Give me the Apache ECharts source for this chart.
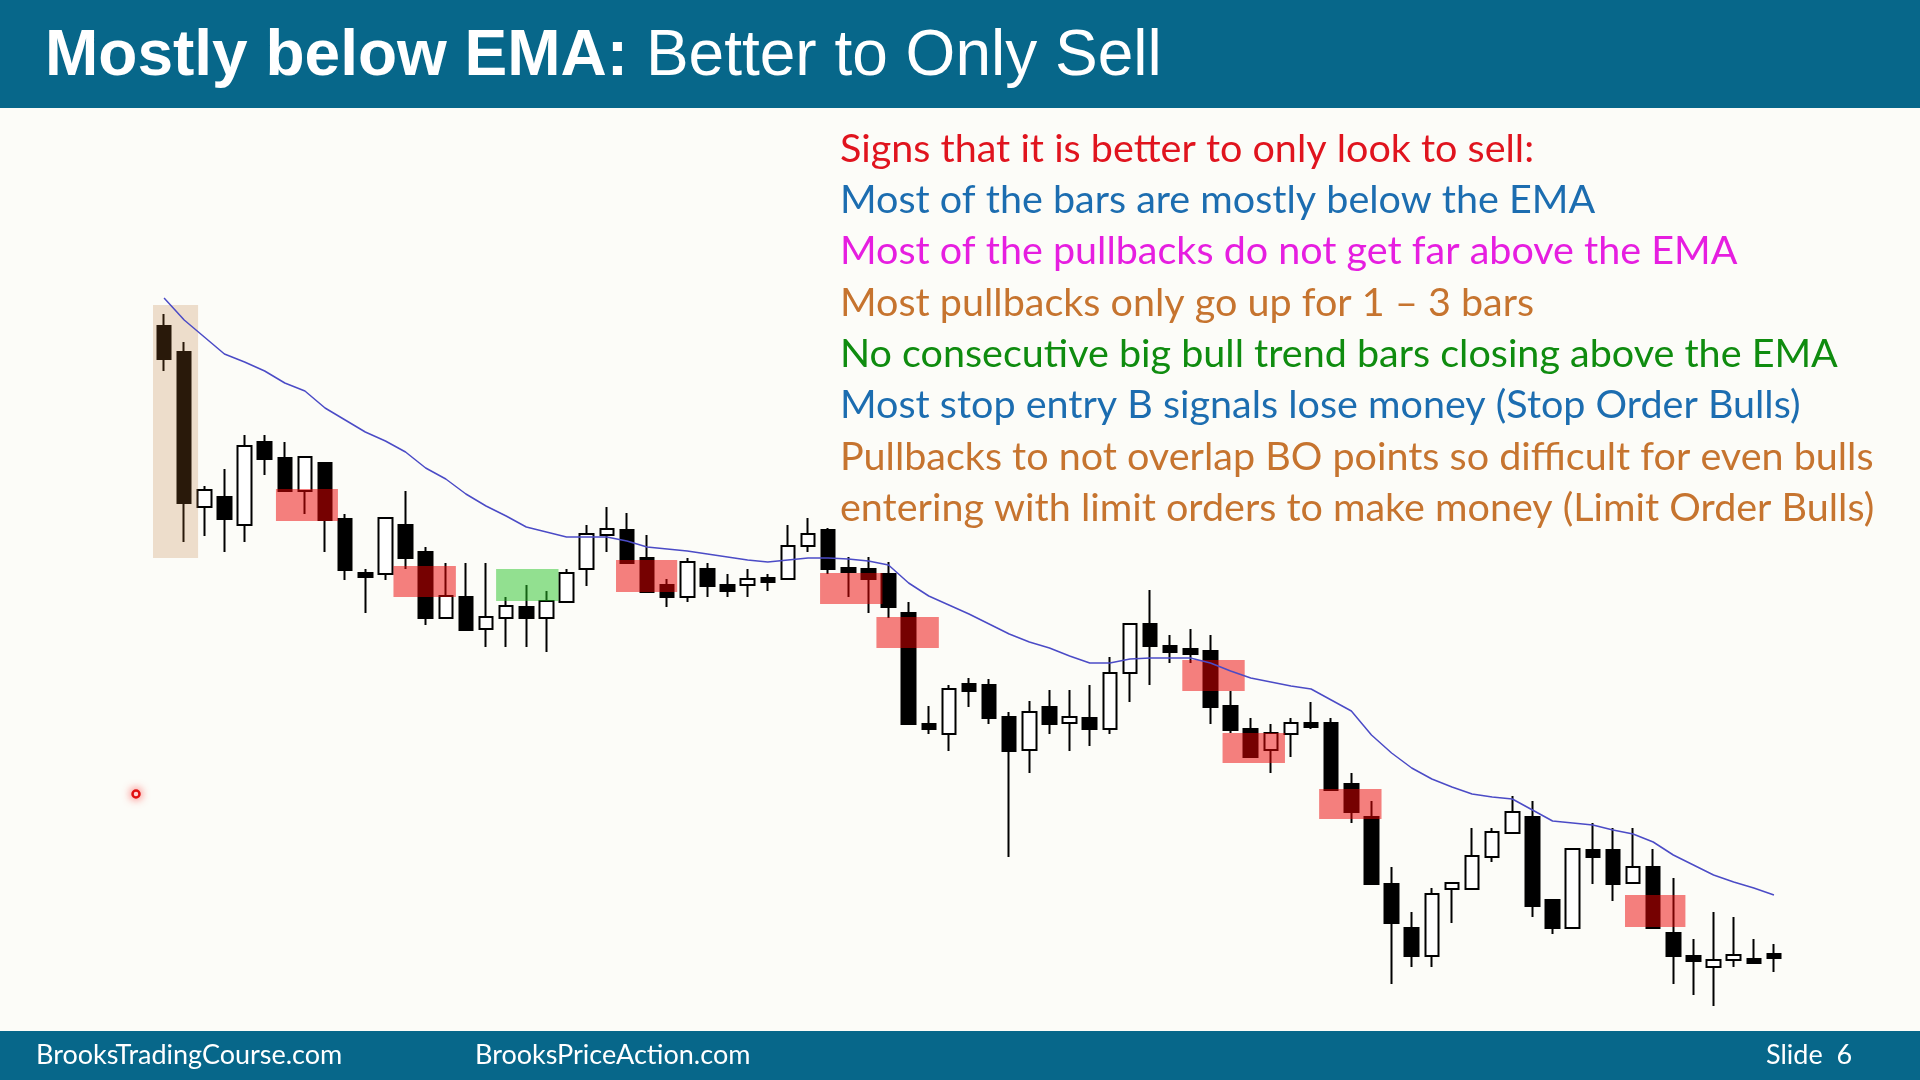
<!DOCTYPE html>
<html>
<head>
<meta charset="utf-8">
<title>Mostly below EMA: Better to Only Sell</title>
<script src="https://cdn.jsdelivr.net/npm/echarts@6/dist/echarts.min.js"></script>
<style>
  html, body { margin: 0; padding: 0; background: #fcfcf8; }
  #chart { width: 1920px; height: 1080px; }
</style>
</head>
<body>
<div id="chart"></div>
<script>
// bar prices (arbitrary units, higher = up)
const opens = [774, 748, 593, 603, 575, 658, 642, 609, 637, 581, 527, 526, 575, 548, 482, 503, 471, 482, 493, 482,
  498, 531, 565, 570, 542, 515, 503, 531, 515, 515, 522, 521, 554, 570, 532, 531, 526, 487, 376, 366,
  416, 415, 383, 350, 393, 377, 382, 371, 427, 476, 454, 451, 449, 394, 371, 350, 366, 377, 377, 316,
  283, 216, 172, 144, 211, 211, 243, 267, 283, 200, 172, 250, 250, 217, 233, 167, 144, 133, 140, 141, 146];
const closes = [741, 597, 610, 581, 654, 641, 609, 643, 580, 530, 523, 582, 542, 482, 504, 470, 483, 494, 482, 499,
  527, 566, 571, 537, 508, 503, 538, 514, 509, 521, 518, 554, 566, 531, 528, 521, 493, 376, 371, 411,
  409, 382, 349, 388, 376, 383, 371, 427, 476, 454, 448, 446, 393, 370, 343, 367, 377, 373, 310, 288,
  216, 177, 144, 206, 217, 244, 268, 288, 194, 172, 251, 243, 216, 233, 172, 144, 139, 140, 145, 137, 142];
const lows = [729, 558, 564, 548, 558, 625, 609, 586, 548, 520, 487, 520, 531, 475, 482, 470, 453, 453, 453, 448,
  498, 514, 548, 537, 508, 493, 498, 503, 503, 503, 509, 521, 548, 526, 503, 487, 482, 376, 366, 349,
  393, 376, 243, 327, 366, 349, 354, 366, 398, 415, 437, 437, 376, 367, 343, 327, 343, 371, 310, 277,
  216, 116, 133, 133, 177, 211, 238, 267, 183, 166, 172, 216, 199, 217, 172, 116, 105, 94, 133, 137, 128];
const highs = [786, 758, 614, 631, 665, 665, 658, 643, 637, 586, 531, 582, 609, 553, 537, 537, 537, 503, 515, 509,
  531, 575, 593, 587, 565, 521, 542, 537, 526, 531, 526, 575, 582, 572, 543, 543, 538, 498, 394, 415,
  422, 421, 388, 399, 410, 410, 415, 443, 477, 510, 465, 471, 465, 409, 382, 376, 382, 398, 382, 327,
  299, 233, 188, 212, 217, 272, 272, 304, 299, 200, 251, 277, 272, 272, 251, 222, 161, 188, 183, 161, 156];
const ema = [802, 780, 763, 746, 738, 729, 717, 709, 692, 680, 668, 659, 648, 632, 621, 606, 594, 584, 573, 568,
  563, 563, 563, 559, 553, 551, 549, 546, 543, 540, 538, 540, 542, 542, 541, 539, 535, 517, 504, 495,
  486, 476, 466, 458, 452, 444, 437, 437, 441, 442, 442, 442, 437, 429, 422, 418, 414, 411, 400, 389,
  365, 347, 332, 321, 313, 306, 303, 301, 290, 279, 277, 275, 270, 266, 258, 245, 235, 225, 218, 212, 205];
const bars = opens.map((_, i) => String(i + 1));

// highlight boxes: bar-index span and price span
const boxStart = [-0.55, 5.56, 11.4, 16.5, 22.46, 32.6, 35.4, 50.6, 52.6, 57.4, 72.6];
const boxEnd = [1.69, 8.64, 14.5, 19.6, 25.5, 35.7, 38.5, 53.7, 55.7, 60.5, 75.6];
const boxTop = [795, 611, 534, 531, 540, 527, 483, 440, 367, 311, 205];
const boxBottom = [542, 579, 503, 499, 508, 496, 452, 409, 337, 281, 173];
const boxKind = ['tan', 'red', 'red', 'green', 'red', 'red', 'red', 'red', 'red', 'red', 'red'];

const noteLines = [
  'Signs that it is better to only look to sell:',
  'Most of the bars are mostly below the EMA',
  'Most of the pullbacks do not get far above the EMA',
  'Most pullbacks only go up for 1 \u2013 3 bars',
  'No consecutive big bull trend bars closing above the EMA',
  'Most stop entry B signals lose money (Stop Order Bulls)',
  'Pullbacks to not overlap BO points so difficult for even bulls',
  'entering with limit orders to make money (Limit Order Bulls)'
];
const noteColors = ['#e0141e', '#1c6db0', '#e61ee0', '#c6742f', '#0f8c0f', '#1c6db0', '#c6742f', '#c6742f'];

const boxFill = {
  tan: 'rgba(185,116,46,0.22)',
  red: 'rgba(235,2,2,0.5)',
  green: 'rgba(40,195,40,0.5)'
};

const chart = echarts.init(document.getElementById('chart'));

const teal = '#07678a';
const noteFont = 'Lato, "Open Sans", sans-serif';

const graphics = [
  { type: 'rect', shape: { x: 0, y: 0, width: 1920, height: 108 }, style: { fill: teal }, z: 10 },
  { type: 'rect', shape: { x: 0, y: 1031, width: 1920, height: 49 }, style: { fill: teal }, z: 10 },
  {
    type: 'text', x: 45, y: 57, z: 11,
    style: {
      text: '{b|Mostly below EMA:} Better to Only Sell',
      fill: '#fff', fontSize: 64, fontFamily: '"Liberation Sans", Arial, sans-serif',
      verticalAlign: 'middle',
      rich: { b: { fontWeight: 'bold', fontSize: 64, fill: '#fff', fontFamily: '"Liberation Sans", Arial, sans-serif' } }
    }
  },
  { type: 'text', x: 36, y: 1055, z: 11, style: { text: 'BrooksTradingCourse.com', fill: '#fff', fontSize: 27, fontFamily: noteFont, verticalAlign: 'middle' } },
  { type: 'text', x: 475, y: 1055, z: 11, style: { text: 'BrooksPriceAction.com', fill: '#fff', fontSize: 27, fontFamily: noteFont, verticalAlign: 'middle' } },
  { type: 'text', x: 1766, y: 1055, z: 11, style: { text: 'Slide  6', fill: '#fff', fontSize: 27, fontFamily: noteFont, verticalAlign: 'middle' } },
  // laser pointer dot
  { type: 'circle', shape: { cx: 136, cy: 794, r: 3.5 }, z: 11,
    style: { fill: '#fff', stroke: '#e01010', lineWidth: 2.5, shadowBlur: 10, shadowColor: 'rgba(255,0,0,0.6)' } }
];

noteLines.forEach((t, i) => {
  graphics.push({
    type: 'text', x: 840, y: 149 + i * 51.3, z: 11,
    style: { text: t, fill: noteColors[i], fontSize: 39.5, fontFamily: noteFont, verticalAlign: 'middle' }
  });
});

chart.setOption({
  backgroundColor: '#fcfcf8',
  animation: false,
  grid: { left: 154, top: 100, width: 1630, height: 950 },
  xAxis: [
    {
      type: 'category',
      data: bars,
      show: false
    },
    {
      type: 'value',
      min: -0.5,
      max: 80.5,
      show: false
    }
  ],
  yAxis: {
    type: 'value',
    min: 50,
    max: 1000,
    show: false
  },
  series: [
    {
      name: 'Bars',
      type: 'candlestick',
      z: 2,
      barWidth: 14,
      data: opens.map((o, i) => [o, closes[i], lows[i], highs[i]]),
      itemStyle: {
        color: '#ffffff',
        color0: '#000000',
        borderColor: '#000000',
        borderColor0: '#000000',
        borderColorDoji: '#000000',
        borderWidth: 2
      }
    },
    {
      name: 'Highlights',
      type: 'custom',
      z: 3,
      xAxisIndex: 1,
      yAxisIndex: 0,
      encode: { x: [0, 1], y: [2, 3] },
      data: boxStart.map((s, i) => [s, boxEnd[i], boxTop[i], boxBottom[i], i]),
      renderItem: (params, api) => {
        const p1 = api.coord([api.value(0), api.value(2)]);
        const p2 = api.coord([api.value(1), api.value(3)]);
        return {
          type: 'rect',
          shape: { x: p1[0], y: p1[1], width: p2[0] - p1[0], height: p2[1] - p1[1] },
          style: { fill: boxFill[boxKind[api.value(4)]] }
        };
      }
    },
    {
      name: 'EMA',
      type: 'line',
      z: 4,
      data: ema,
      symbol: 'none',
      lineStyle: { color: '#4b4bc6', width: 1.5 }
    }
  ],
  graphic: graphics
});
</script>
</body>
</html>
